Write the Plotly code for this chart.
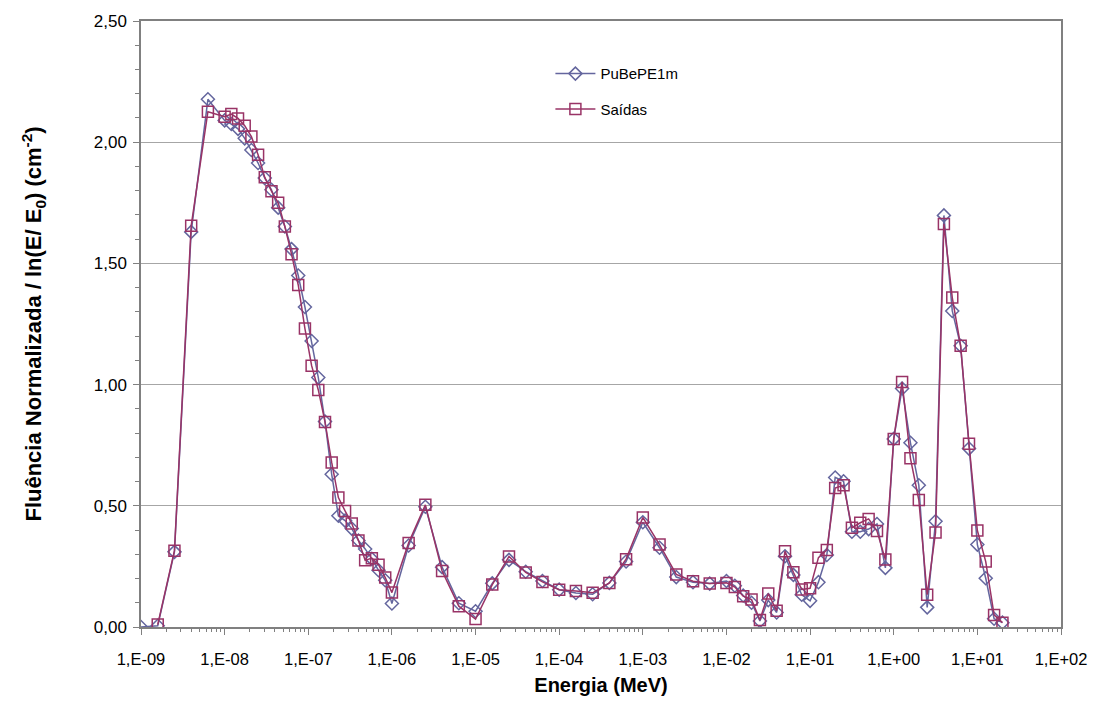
import plotly.graph_objects as go

# log10 of energy (MeV) for each bin
log_energy = [-9.0, -8.8, -8.6, -8.4, -8.2,
              -8.0, -7.92, -7.84, -7.76, -7.68, -7.60, -7.52, -7.44, -7.36, -7.28,
              -7.20, -7.12, -7.04, -6.96, -6.88, -6.80, -6.72, -6.64, -6.56, -6.48,
              -6.40, -6.32, -6.24, -6.16, -6.08, -6.00,
              -5.8, -5.6, -5.4, -5.2, -5.0, -4.8, -4.6, -4.4, -4.2, -4.0,
              -3.8, -3.6, -3.4, -3.2, -3.0, -2.8, -2.6, -2.4, -2.2, -2.0,
              -1.9, -1.8, -1.7, -1.6, -1.5, -1.4, -1.3, -1.2, -1.1, -1.0,
              -0.9, -0.8, -0.7, -0.6, -0.5, -0.4, -0.3, -0.2, -0.1, 0.0,
              0.1, 0.2, 0.3, 0.4, 0.5, 0.6, 0.7, 0.8, 0.9, 1.0,
              1.1, 1.2, 1.3]
energy = [10 ** v for v in log_energy]

pubepe1m = [0.00, 0.005, 0.31, 1.63, 2.177,
            2.09, 2.075, 2.055, 2.016, 1.968, 1.914, 1.852, 1.804, 1.73, 1.652,
            1.559, 1.45, 1.32, 1.18, 1.029, 0.848, 0.63, 0.459, 0.439, 0.406,
            0.357, 0.322, 0.281, 0.234, 0.193, 0.097,
            0.336, 0.496, 0.247, 0.098, 0.065, 0.18, 0.277, 0.228, 0.19, 0.154,
            0.14, 0.135, 0.182, 0.27, 0.432, 0.327, 0.206, 0.185, 0.179, 0.19,
            0.17, 0.13, 0.10, 0.025, 0.111, 0.06, 0.292, 0.215, 0.133, 0.108,
            0.185, 0.297, 0.617, 0.601, 0.393, 0.393, 0.404, 0.425, 0.244, 0.776,
            0.984, 0.760, 0.585, 0.081, 0.436, 1.698, 1.304, 1.16, 0.736, 0.340,
            0.201, 0.034, 0.018]

saidas = [None, 0.01, 0.315, 1.655, 2.126,
          2.105, 2.116, 2.098, 2.068, 2.023, 1.948, 1.855, 1.798, 1.75, 1.652,
          1.538, 1.411, 1.231, 1.078, 0.978, 0.846, 0.679, 0.534, 0.479, 0.427,
          0.357, 0.275, 0.284, 0.257, 0.204, 0.142,
          0.347, 0.504, 0.231, 0.086, 0.033, 0.175, 0.291, 0.225, 0.186, 0.154,
          0.149, 0.141, 0.182, 0.28, 0.452, 0.34, 0.217, 0.189, 0.179, 0.182,
          0.165, 0.127, 0.113, 0.029, 0.138, 0.067, 0.313, 0.226, 0.155, 0.16,
          0.286, 0.318, 0.573, 0.585, 0.409, 0.43, 0.446, 0.396, 0.278, 0.776,
          1.011, 0.696, 0.524, 0.133, 0.39, 1.663, 1.359, 1.16, 0.756, 0.398,
          0.27, 0.05, 0.018]

x_tick_vals = [1e-9, 1e-8, 1e-7, 1e-6, 1e-5, 1e-4, 1e-3, 1e-2, 1e-1, 1e0, 1e1, 1e2]
x_tick_text = ["1,E-09", "1,E-08", "1,E-07", "1,E-06", "1,E-05", "1,E-04",
               "1,E-03", "1,E-02", "1,E-01", "1,E+00", "1,E+01", "1,E+02"]
y_tick_vals = [0, 0.5, 1.0, 1.5, 2.0, 2.5]
y_tick_text = ["0,00", "0,50", "1,00", "1,50", "2,00", "2,50"]

minor_x = [m * 10 ** k for k in range(-9, 2) for m in range(2, 10)]

blue = "#64669e"
plum = "#993366"

fig = go.Figure()
fig.add_trace(go.Scatter(
    x=energy, y=pubepe1m, name="PuBePE1m", mode="lines+markers",
    line=dict(color=blue, width=1.5),
    marker=dict(symbol="diamond-open", size=10, color=blue, line=dict(width=1.5, color=blue)),
    legendgroup="a"))
fig.add_trace(go.Scatter(
    x=energy, y=saidas, name="Saídas", mode="lines+markers",
    line=dict(color=plum, width=1.5),
    marker=dict(symbol="square-open", size=11, color=plum, line=dict(width=1.5, color=plum)),
    legendgroup="b"))

font = "Liberation Sans, Arial, sans-serif"
fig.update_layout(
    width=1099, height=728,
    margin=dict(l=141, r=34, t=17, b=101),
    paper_bgcolor="white", plot_bgcolor="white",
    font=dict(family=font, size=15, color="black"),
    showlegend=True,
    legend=dict(x=0.445, y=0.94, xanchor="left", yanchor="top",
                bgcolor="rgba(0,0,0,0)", font=dict(size=15),
                traceorder="grouped", tracegroupgap=13, itemwidth=40),
    xaxis=dict(
        type="log", range=[-9, 2],
        tickmode="array", tickvals=x_tick_vals, ticktext=x_tick_text,
        ticks="outside", ticklen=6, tickcolor="#808080",
        ticklabelstandoff=10,
        showgrid=False, zeroline=False,
        showline=True, linecolor="#808080", linewidth=1.5, mirror=True,
        minor=dict(tickmode="array", tickvals=minor_x, ticks="outside",
                   ticklen=3, tickcolor="#808080", showgrid=False),
        title=dict(text="<b>Energia (MeV)</b>", font=dict(size=20), standoff=11),
        tickfont=dict(size=16.5),
    ),
    yaxis=dict(
        range=[0, 2.5],
        tickmode="array", tickvals=y_tick_vals, ticktext=y_tick_text,
        ticks="outside", ticklen=6, tickcolor="#808080",
        ticklabelstandoff=3,
        showgrid=True, gridcolor="#a6a6a6", gridwidth=1,
        zeroline=False,
        showline=True, linecolor="#808080", linewidth=1.5, mirror=True,
        minor=dict(dtick=0.1, ticks="outside", ticklen=4, tickcolor="#808080", showgrid=False),
        title=dict(text="<b>Fluência Normalizada / ln(E/ E<sub>0</sub>) (cm<sup>-2</sup>)</b>",
                   font=dict(size=22), standoff=46),
        tickfont=dict(size=17),
    ),
)

fig.write_html("out.html")
